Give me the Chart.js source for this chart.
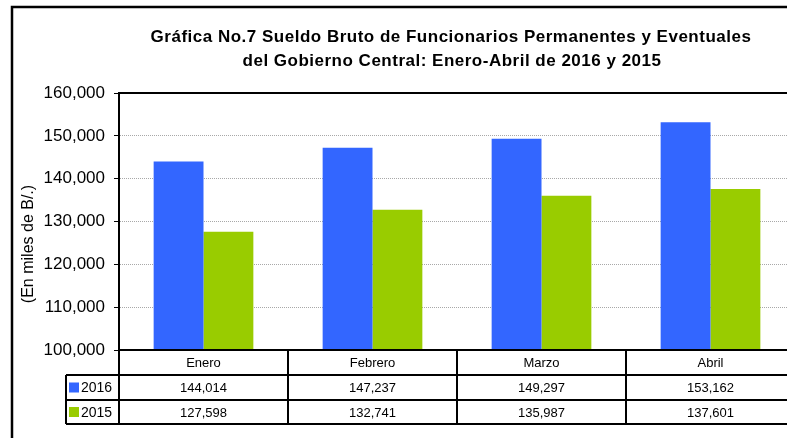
<!DOCTYPE html>
<html>
<head>
<meta charset="utf-8">
<script src="https://cdn.jsdelivr.net/npm/chart.js@4/dist/chart.umd.min.js"></script>
<style>
  html, body { margin: 0; padding: 0; background: #fff; overflow: hidden; }
  #wrap { width: 810px; height: 438px; }
</style>
</head>
<body>
<div id="wrap"><canvas id="chart" width="810" height="438"></canvas></div>
<script>
const categories = ['Enero', 'Febrero', 'Marzo', 'Abril'];
const seriesNames = ['2016', '2015'];
const values2016 = [144014, 147237, 149297, 153162];
const values2015 = [127598, 132741, 135987, 137601];
const seriesColors = ['#3366FF', '#99CC00'];
const titleLines = [
  'Gráfica No.7 Sueldo Bruto de Funcionarios Permanentes y Eventuales',
  'del Gobierno Central: Enero-Abril de 2016 y 2015'
];
const yTitle = '(En miles de B/.)';
const yMin = 100000, yMax = 160000, yStep = 10000;

const fmt = (v) => v.toLocaleString('en-US');

// title, frame, axis title and the data table under the plot
const decorations = {
  id: 'decorations',
  afterDraw(chart) {
    const ctx = chart.ctx;
    const area = chart.chartArea;
    const xs = chart.scales.x;
    ctx.save();

    // outer frame
    ctx.strokeStyle = '#000';
    ctx.lineWidth = 2.5;
    ctx.beginPath();
    ctx.moveTo(12, 440);
    ctx.lineTo(12, 7);
    ctx.lineTo(820, 7);
    ctx.stroke();

    // title
    ctx.save();
    ctx.fillStyle = '#000';
    ctx.font = 'bold 17px "Liberation Sans", Arial, sans-serif';
    ctx.letterSpacing = '0.5px';
    ctx.textAlign = 'center';
    ctx.textBaseline = 'middle';
    ctx.fillText(titleLines[0], 451, 37);
    ctx.fillText(titleLines[1], 452, 61);
    ctx.restore();

    // y axis title
    ctx.save();
    ctx.fillStyle = '#000';
    ctx.textAlign = 'center';
    ctx.textBaseline = 'middle';
    ctx.translate(29, 244);
    ctx.rotate(-Math.PI / 2);
    ctx.font = '16px "Liberation Sans", Arial, sans-serif';
    ctx.fillText(yTitle, 0, 0);
    ctx.restore();

    // top border of plot
    ctx.strokeStyle = '#000';
    ctx.lineWidth = 2;
    ctx.beginPath();
    ctx.moveTo(area.left, area.top);
    ctx.lineTo(area.right, area.top);
    ctx.stroke();

    // table
    const colW = (area.right - area.left) / categories.length;
    const rowH = [25, 25, 24];
    const legLeft = 66;
    const y0 = area.bottom;
    const y1 = y0 + rowH[0];
    const y2 = y1 + rowH[1];
    const y3 = y2 + rowH[2];

    ctx.strokeStyle = '#000';
    ctx.lineWidth = 2;
    ctx.beginPath();
    ctx.moveTo(area.left - 1, y0); ctx.lineTo(area.right, y0);
    ctx.moveTo(legLeft, y1); ctx.lineTo(area.right, y1);
    ctx.moveTo(legLeft, y2); ctx.lineTo(area.right, y2);
    ctx.moveTo(legLeft, y3); ctx.lineTo(area.right, y3);
    ctx.moveTo(legLeft, y1); ctx.lineTo(legLeft, y3);
    for (let i = 0; i <= categories.length; i++) {
      const x = area.left + i * colW;
      ctx.moveTo(x, y0); ctx.lineTo(x, y3);
    }
    ctx.stroke();

    ctx.font = '13px "Liberation Sans", Arial, sans-serif';
    ctx.textAlign = 'center';
    ctx.textBaseline = 'middle';
    ctx.fillStyle = '#000';
    const rows = [values2016, values2015];
    categories.forEach((c, i) => {
      const cx = xs.getPixelForValue(i);
      ctx.fillText(c, cx, (y0 + y1) / 2 + 1);
      ctx.fillText(fmt(rows[0][i]), cx, (y1 + y2) / 2 + 1);
      ctx.fillText(fmt(rows[1][i]), cx, (y2 + y3) / 2 + 1);
    });

    // legend keys in the table
    ctx.textAlign = 'left';
    [[y1, y2], [y2, y3]].forEach(([a, b], k) => {
      const cy = (a + b) / 2;
      ctx.fillStyle = seriesColors[k];
      ctx.fillRect(legLeft + 3, cy - 5, 10, 10);
      ctx.fillStyle = '#000';
      ctx.font = '14px "Liberation Sans", Arial, sans-serif';
      ctx.fillText(seriesNames[k], legLeft + 15, cy + 1);
    });

    ctx.restore();
  }
};

new Chart(document.getElementById('chart'), {
  type: 'bar',
  data: {
    labels: categories,
    datasets: [
      { label: seriesNames[0], data: values2016, backgroundColor: seriesColors[0] },
      { label: seriesNames[1], data: values2015, backgroundColor: seriesColors[1] }
    ]
  },
  options: {
    responsive: false,
    animation: false,
    layout: { padding: { top: 93, bottom: 88, left: 0, right: 15 } },
    plugins: { legend: { display: false }, tooltip: { enabled: false } },
    datasets: { bar: { categoryPercentage: 0.59, barPercentage: 1.0 } },
    scales: {
      x: { display: false },
      y: {
        min: yMin,
        max: yMax,
        afterFit(scale) { scale.width = 119; },
        ticks: {
          stepSize: yStep,
          padding: 9,
          color: '#000',
          font: { family: '"Liberation Sans", Arial, sans-serif', size: 17 },
          callback: (v) => fmt(v)
        },
        grid: { color: '#a8a8a8', tickColor: '#000', tickLength: 5, lineWidth: 1 },
        border: { color: '#000', width: 2, dash: [1, 1] }
      }
    }
  },
  plugins: [decorations]
});
</script>
</body>
</html>
